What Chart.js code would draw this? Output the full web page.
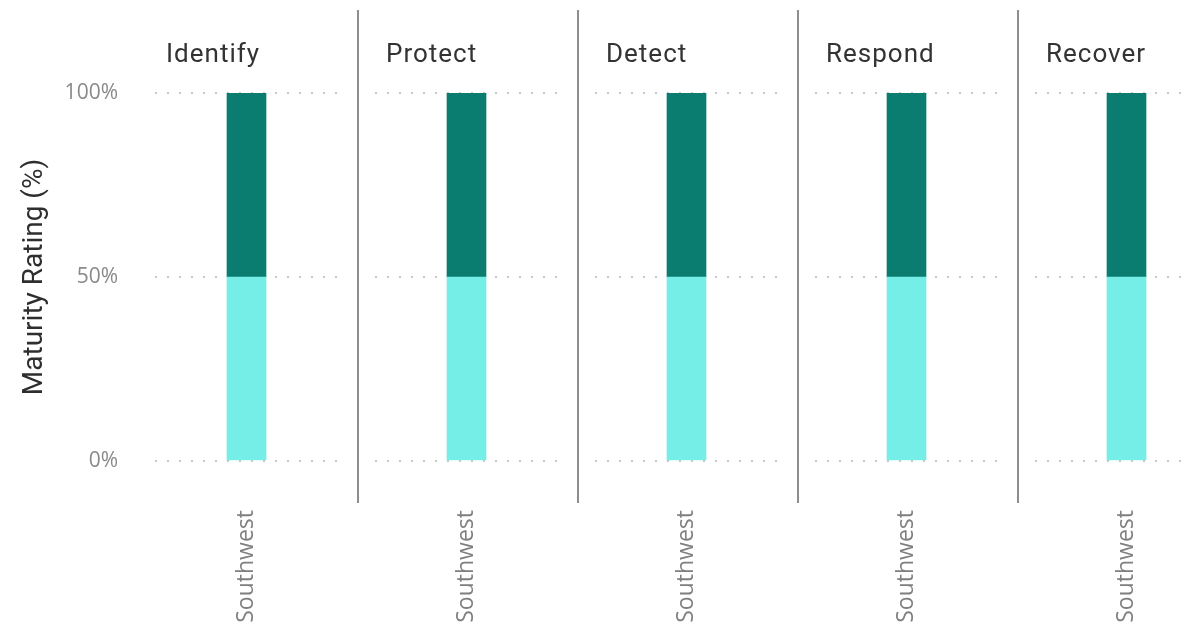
<!DOCTYPE html>
<html>
<head>
<meta charset="utf-8">
<script src="https://cdn.jsdelivr.net/npm/chart.js@4.4.1/dist/chart.umd.min.js"></script>
<style>
  html, body { margin: 0; padding: 0; background: #fff; overflow: hidden; }
  #wrap { position: relative; width: 1191px; height: 627px; overflow: hidden; }
  .panel { position: absolute; top: 0; }
  .panel canvas { display: block; }
  .ptitle { position: absolute; top: 38px; font-family: Roboto, sans-serif; font-size: 26px; color: #333; letter-spacing: 1px; white-space: nowrap; }
  .sep { position: absolute; top: 10px; width: 2px; height: 493px; background: #8e8e8e; }
</style>
</head>
<body>
<div id="wrap"></div>
<script>
// small multiples: one stacked bar per function
const functions = ['Identify', 'Protect', 'Detect', 'Respond', 'Recover'];
const regions = ['Southwest'];
const lowerPart = [50, 50, 50, 50, 50];
const upperPart = [50, 50, 50, 50, 50];
const yTickValues = [0, 50, 100];

const lightCyan = '#74eee7';
const darkTeal = '#0b7c70';

const wrap = document.getElementById('wrap');
const panelW = 220;
const firstSep = 358;

functions.forEach((name, i) => {
    const first = i === 0;
    const left = first ? 0 : firstSep + panelW * (i - 1);
    const width = first ? firstSep : panelW;
    const axisW = first ? 155 : 17;

    const div = document.createElement('div');
    div.className = 'panel';
    div.style.left = left + 'px';
    const canvas = document.createElement('canvas');
    canvas.width = width;
    canvas.height = 627;
    canvas.style.width = width + 'px';
    canvas.style.height = '627px';
    div.appendChild(canvas);
    wrap.appendChild(div);

    const t = document.createElement('div');
    t.className = 'ptitle';
    t.style.left = (left + axisW + 11) + 'px';
    t.textContent = name;
    wrap.appendChild(t);

    if (!first) {
        const s = document.createElement('div');
        s.className = 'sep';
        s.style.left = (left - 1) + 'px';
        wrap.appendChild(s);
    }

    new Chart(canvas, {
        type: 'bar',
        data: {
            labels: regions,
            datasets: [
                { label: 'Lower', data: [lowerPart[i]], backgroundColor: lightCyan, barThickness: 39 },
                { label: 'Upper', data: [upperPart[i]], backgroundColor: darkTeal, barThickness: 39 }
            ]
        },
        options: {
            responsive: false,
            animation: false,
            layout: { padding: { top: 93, right: 20, bottom: 0, left: 0 } },
            plugins: { legend: { display: false }, tooltip: { enabled: false } },
            scales: {
                x: {
                    stacked: true,
                    grid: { display: false, drawTicks: false },
                    border: { display: false },
                    ticks: {
                        minRotation: 90, maxRotation: 90, padding: 49,
                        color: '#7f7f7f',
                        font: { family: "'Open Sans', sans-serif", size: 23 }
                    },
                    afterFit: s => { s.height = 166; }
                },
                y: {
                    stacked: true,
                    min: 0, max: 100,
                    afterBuildTicks: s => { s.ticks = yTickValues.map(v => ({ value: v })); },
                    grid: { color: '#c6c6c6', lineWidth: 2, drawTicks: false },
                    border: { display: false, dash: [2, 10] },
                    ticks: {
                        display: first, padding: 37,
                        color: '#8a8a8a',
                        font: { family: "'Open Sans', sans-serif", size: 21 },
                        callback: v => v + '%'
                    },
                    title: {
                        display: first,
                        text: 'Maturity Rating (%)',
                        color: '#2e2e2e',
                        font: { family: 'Roboto, sans-serif', size: 28 },
                        padding: { top: 18, bottom: 0 }
                    },
                    afterFit: s => { s.width = axisW; }
                }
            }
        }
    });
});
</script>
</body>
</html>
